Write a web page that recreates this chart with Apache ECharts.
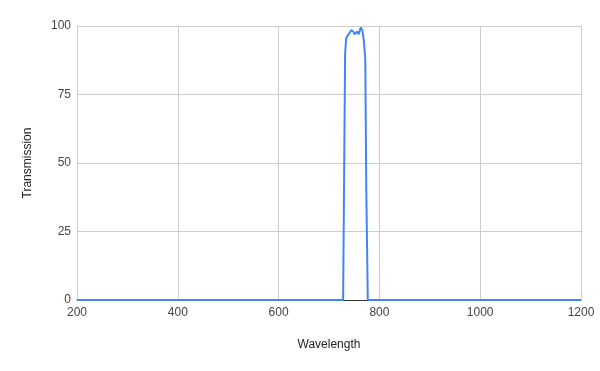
<!DOCTYPE html>
<html>
<head>
<meta charset="utf-8">
<script src="https://cdn.jsdelivr.net/npm/echarts@6/dist/echarts.min.js"></script>
<style>html,body{margin:0;padding:0;background:#fff}#c{width:600px;height:371px}</style>
</head>
<body>
<div id="c"></div>
<script>
var wavelengths = [200, 400, 600, 720, 728, 730, 732, 734, 737, 741, 744, 748, 751, 754, 756, 759, 763, 766, 769, 772, 774, 777, 780, 1000, 1200];
var transmission = [0, 0, 0, 0, 0, 45, 90, 95.5, 96.5, 97.5, 98.5, 98, 97, 97.5, 98, 97, 99.5, 98.5, 95, 88, 40, 0, 0, 0, 0];
var xTicks = [200, 400, 600, 800, 1000, 1200];
var yTicks = [0, 25, 50, 75, 100];

var data = wavelengths.map(function (w, i) { return [w, transmission[i]]; });
var chart = echarts.init(document.getElementById('c'));
var font = 'Arial, "Liberation Sans", sans-serif';
chart.setOption({
  animation: false,
  grid: { left: 77, right: 19, top: 26, bottom: 71 },
  xAxis: {
    type: 'value', min: xTicks[0], max: xTicks[xTicks.length - 1], interval: 200,
    name: 'Wavelength', nameLocation: 'middle', nameGap: 39,
    nameTextStyle: { color: '#222', fontSize: 12, fontFamily: font },
    axisLine: { show: true, onZero: false, lineStyle: { color: '#333', width: 1 } },
    axisTick: { show: false },
    axisLabel: { color: '#444', fontSize: 12, fontFamily: font, margin: 7, formatter: function (v) { return String(v); } },
    splitLine: { show: true, lineStyle: { color: '#ccc', width: 1 } }
  },
  yAxis: {
    type: 'value', min: yTicks[0], max: yTicks[yTicks.length - 1], interval: 25,
    name: 'Transmission', nameLocation: 'middle', nameGap: 43,
    nameTextStyle: { color: '#222', fontSize: 12, fontFamily: font },
    axisLine: { show: false },
    axisTick: { show: false },
    axisLabel: { color: '#444', fontSize: 12, fontFamily: font, margin: 6, formatter: function (v) { return String(v); } },
    splitLine: { show: true, lineStyle: { color: '#ccc', width: 1 } }
  },
  series: [{
    type: 'line', data: data, showSymbol: false, smooth: false,
    lineStyle: { color: '#4285F4', width: 2 },
    itemStyle: { color: '#4285F4' }
  }]
});
</script>
</body>
</html>
